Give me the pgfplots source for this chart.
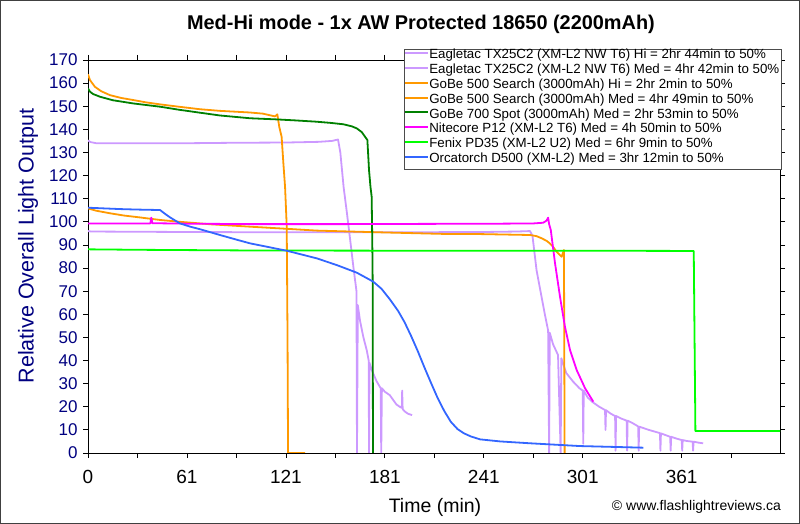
\documentclass[border=0pt]{standalone}
\usepackage{fontspec}
\setmainfont{Liberation Sans}
\usepackage{pgfplots}
\pgfplotsset{compat=1.18}

\definecolor{lav}{RGB}{204,153,255}
\definecolor{gobe}{RGB}{255,153,0}
\definecolor{dgreen}{RGB}{0,128,0}
\definecolor{nite}{RGB}{255,0,255}
\definecolor{fenix}{RGB}{0,255,0}
\definecolor{orca}{RGB}{51,102,255}
\definecolor{navy}{RGB}{0,0,128}

\begin{document}
\begin{tikzpicture}
\begin{axis}[
  at={(88pt,71pt)}, anchor=south west,
  scale only axis, width=692pt, height=393pt,
  xmin=0, xmax=419.6, ymin=0, ymax=170,
  axis line style={line width=0.8pt},
  tick style={black, line width=0.8pt},
  tick align=outside, major tick length=5pt, minor tick length=5pt,
  xtick={0,60,...,360}, xticklabels={0,61,121,181,241,301,361},
  minor xtick={30,90,...,390},
  ytick={0,10,...,170},
  /pgf/number format/assume math mode=true,
  xticklabel style={font=\fontsize{19}{21}\selectfont, yshift=-9pt},
  yticklabel style={font=\fontsize{17}{19}\selectfont, text=navy, xshift=-2pt},
  title={Med-Hi mode - 1x AW Protected 18650 (2200mAh)},
  title style={at={(axis description cs:0.4812,1.075)}, anchor=center,
    font=\bfseries\fontsize{19.9}{22}\selectfont},
  xlabel={Time (min)},
  xlabel style={at={(axis description cs:0.5014,-0.1374)}, anchor=center,
    font=\fontsize{19.5}{22}\selectfont},
  ylabel={Relative Overall Light Output},
  ylabel style={at={(axis description cs:-0.0867,0.5267)}, anchor=center,
    font=\fontsize{21.5}{24}\selectfont, text=navy},
  legend cell align=left,
  legend image code/.code={\draw[#1, line width=2pt, transform canvas={yshift=4.4pt}] (0pt,0pt) -- (23pt,0pt);},
  legend style={at={(axis description cs:0.4566,1.0272)}, anchor=north west,
    draw=black!70, line width=0.6pt, fill=white, inner sep=0.5pt,
    font=\fontsize{13.3}{15}\selectfont, row sep=0pt,
    nodes={inner ysep=0pt, inner xsep=1.5pt, text height=8.7pt, text depth=6.1pt}},
  every axis plot/.append style={line width=1.8pt, line join=round},
]

% Eagletac TX25C2 Hi
\addplot[lav] coordinates {(0,135.2) (1.5,134.5) (5,134) (30,134) (60,134) (90,134.2) (120,134.3) (140,134.6) (148,135) (151.6,135.6) (153,130) (155,115) (157,103.8) (159,92) (161,80) (162.8,70) (163.1,0) (163.6,64) (165,57) (167,50) (169,44.5) (170.2,40) (170.4,0) (170.7,39) (172,36) (175,31) (177.5,28) (177.8,0) (178.2,28) (180,26.5) (183,25) (185,23) (187,21) (189,20) (190.3,19.5) (190.5,27) (190.8,19) (192,18) (194,17) (196.5,16.4)};
\addlegendentry{Eagletac TX25C2 (XM-L2 NW T6) Hi = 2hr 44min to 50\%}

% Eagletac TX25C2 Med
\addplot[lav] coordinates {(0,96) (2,95.8) (30,95.7) (60,95.6) (100,95.5) (150,95.5) (200,95.5) (240,95.6) (260,95.8) (268,96) (269.5,94) (271,85) (272,79) (275,67.6) (277,60) (279,53) (279.6,0) (280,52) (282,47) (285,42.4) (286.6,0) (287,41) (290,34.6) (294,31) (298,28) (300,27) (300.3,4) (300.6,27) (303,24) (306,22) (310,20) (313.5,18.6) (313.8,10) (314.1,18.5) (317,17) (319.6,16) (319.9,1) (320.2,16) (323,15) (326.6,14) (326.9,1) (327.2,14) (330,13) (333.6,11.5) (333.9,1) (334.2,11.4) (340,10) (346.8,8.6) (347.1,1) (347.4,8.5) (350,7.8) (353,7) (353.3,1) (353.6,7) (357,6.2) (360,5.6) (360.3,1) (360.6,5.6) (363,5.2) (366.6,4.9) (366.9,1) (367.2,4.9) (370,4.5) (373,4.2)};
\addlegendentry{Eagletac TX25C2 (XM-L2 NW T6) Med = 4hr 42min to 50\%}

% GoBe 500 Search Hi
\addplot[gobe] coordinates {(0,163.8) (1.2,161.3) (4.2,158.4) (8,156.5) (13.3,154.8) (20,153.6) (27.3,152.7) (35,151.7) (43.7,150.8) (55,149.8) (67.9,148.7) (80,148) (98,147.3) (106,146.8) (113.4,145.6) (114.8,146.5) (116,141) (117.4,136.8) (118.5,125) (119.5,115) (120.5,98) (121,48) (121.3,0) (131.6,0)};
\addlegendentry{GoBe 500 Search (3000mAh) Hi = 2hr 2min to 50\%}

% GoBe 500 Search Med
\addplot[gobe] coordinates {(0,105.8) (5,104.8) (13.3,103.7) (22,102.7) (31.5,101.9) (43.7,100.8) (55.8,100) (75,98.9) (98.2,97.9) (120,97) (138.7,96.2) (180,95.4) (219.5,94.7) (237.7,94.7) (268,94.3) (272,93.8) (275,92.9) (278,91.8) (280,90.7) (282,89.2) (284.2,87) (287.2,84.9) (288.6,87.8) (289,0)};
\addlegendentry{GoBe 500 Search (3000mAh) Med = 4hr 49min to 50\%}

% GoBe 700 Spot Med
\addplot[dgreen] coordinates {(0,157.7) (1.2,156.3) (3,155.3) (7.3,154.1) (15,152.6) (27.5,151.2) (43.7,149.8) (55,148.5) (67.9,147.2) (80,146) (98.2,144.8) (114.4,144.3) (125,143.9) (138.7,143.3) (147,142.8) (154.8,142.2) (160,141.3) (163,140.4) (166,138.8) (168,136.8) (169.4,135.4) (170.4,122.4) (171.3,115) (172,110.9) (172.4,90) (172.6,74.8) (172.8,0)};
\addlegendentry{GoBe 700 Spot (3000mAh) Med = 2hr 53min to 50\%}

% Nitecore P12 Med
\addplot[nite] coordinates {(0,99.3) (20,99.3) (37.8,99.3) (38.4,101.8) (39,99.4) (60,99.2) (100,99) (150,99) (200,99.1) (250,99.2) (270,99.3) (276,99.6) (278,100.5) (279,101.8) (279.6,99) (280.6,96.5) (283.2,82) (286.2,67.6) (289.2,54.6) (292.3,44.5) (296.3,35.9) (301.4,28) (306.4,22.2)};
\addlegendentry{Nitecore P12 (XM-L2 T6) Med = 4h 50min to 50\%}

% Fenix PD35 Med
\addplot[fenix] coordinates {(0,88.1) (30,87.9) (100,87.6) (200,87.5) (300,87.5) (367.3,87.4) (368.3,9.5) (419.6,9.5)};
\addlegendentry{Fenix PD35 (XM-L2 U2) Med = 6hr 9min to 50\%}

% Orcatorch D500 Med
\addplot[orca] coordinates {(0,106.1) (10,105.8) (20,105.5) (30,105.3) (43.7,105.1) (47,103.3) (50,101.8) (55.8,99.3) (62,97.9) (67.9,96.8) (80,94.3) (90,92.3) (98.2,90.7) (110,89) (120.5,87.5) (138.7,84.2) (150.8,81.3) (163,78) (173,74.1) (178,71) (183,66.5) (188,61.5) (192,56.5) (196,50.5) (200,44) (204,37) (208,30.3) (212,23.8) (216,18.2) (220,13.5) (224,10.4) (228,8.5) (232,7.2) (237.7,5.9) (250,5) (268,4.2) (298.4,3) (336.7,2.3)};
\addlegendentry{Orcatorch D500 (XM-L2) Med = 3hr 12min to 50\%}
\end{axis}

\node[font=\fontsize{14}{16}\selectfont] at (696.5pt,17pt) {© www.flashlightreviews.ca};
\draw[line width=1.2pt, black!75] (0.6pt,0.6pt) rectangle (799.4pt,523.4pt);
\end{tikzpicture}
\end{document}
